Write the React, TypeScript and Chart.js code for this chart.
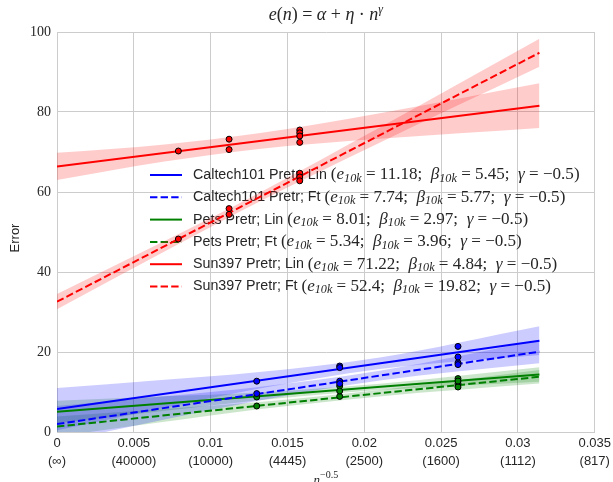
import React, { useEffect, useRef } from 'react';
import { Chart, registerables } from 'chart.js';
Chart.register(...registerables);

// ---------- data ----------
const xTicks = [0, 0.005, 0.01, 0.015, 0.02, 0.025, 0.03, 0.035];
const xTickLabels = ['0', '0.005', '0.01', '0.015', '0.02', '0.025', '0.03', '0.035'];
const xTickSub = ['(∞)', '(40000)', '(10000)', '(4445)', '(2500)', '(1600)', '(1112)', '(817)'];

const seriesNames = [
  'Caltech101 Pretr; Lin',
  'Caltech101 Pretr; Ft',
  'Pets Pretr; Lin',
  'Pets Pretr; Ft',
  'Sun397 Pretr; Lin',
  'Sun397 Pretr; Ft',
];
const e10k = ['11.18', '7.74', '8.01', '5.34', '71.22', '52.4'];
const b10k = ['5.45', '5.77', '2.97', '3.96', '4.84', '19.82'];
const gammaVal = '−0.5';
const seriesColors = ['#0000ff', '#0000ff', '#008000', '#008000', '#ff0000', '#ff0000'];
const bandColors = [
  'rgba(0,0,255,0.2)', 'rgba(0,0,255,0.2)',
  'rgba(0,128,0,0.2)', 'rgba(0,128,0,0.2)',
  'rgba(255,0,0,0.2)', 'rgba(255,0,0,0.2)',
];
const dashed = [false, true, false, true, false, true];

// fitted lines (endpoints)
const fitX = [0, 0.0314];
const caltechLinFit = [5.73, 22.84];
const caltechFtFit = [1.97, 20.09];
const petsLinFit = [5.04, 14.37];
const petsFtFit = [1.38, 13.81];
const sunLinFit = [66.38, 81.58];
const sunFtFit = [32.58, 94.81];

// confidence bands
const bandX = [0, 0.007, 0.013, 0.021, 0.0314];
const caltechLinUpper = [11.0, 13.05, 14.92, 18.63, 26.44];
const caltechLinLower = [0.43, 6.05, 10.72, 15.73, 19.24];
const caltechFtUpper = [6.47, 8.91, 11.17, 15.29, 22.99];
const caltechFtLower = [-2.53, 3.11, 7.77, 12.89, 17.19];
const petsLinUpper = [7.84, 8.92, 9.9, 12.08, 16.17];
const petsLinLower = [2.24, 5.32, 7.9, 10.48, 12.57];
const petsFtUpper = [3.88, 5.75, 7.43, 10.5, 15.51];
const petsFtLower = [-1.12, 2.55, 5.63, 8.9, 12.11];
const sunLinUpper = [69.8, 71.9, 74.6, 79.7, 87.2];
const sunLinLower = [63.0, 67.6, 70.7, 73.3, 76.0];
const sunFtUpper = [34.5, 47.75, 59.45, 76.1, 98.3];
const sunFtLower = [30.7, 45.15, 57.25, 72.3, 91.3];

// observed points
const caltechLinPtsX = [0.013, 0.0184, 0.0184, 0.0261, 0.0261];
const caltechLinPtsY = [12.7, 16.5, 16.1, 21.4, 18.75];
const caltechFtPtsX = [0.013, 0.0184, 0.0184, 0.0261, 0.0261];
const caltechFtPtsY = [9.6, 12.7, 12.1, 17.3, 16.85];
const petsLinPtsX = [0.013, 0.0184, 0.0184, 0.0261, 0.0261];
const petsLinPtsY = [8.75, 11.5, 10.25, 13.35, 12.75];
const petsFtPtsX = [0.013, 0.0184, 0.0261, 0.0261];
const petsFtPtsY = [6.5, 8.9, 12.1, 11.25];
const sunLinPtsX = [0.0079, 0.0112, 0.0112, 0.0158, 0.0158, 0.0158, 0.0158];
const sunLinPtsY = [70.25, 73.2, 70.6, 75.5, 74.8, 74.0, 72.4];
const sunFtPtsX = [0.0079, 0.0112, 0.0112, 0.0158, 0.0158, 0.0158];
const sunFtPtsY = [48.25, 55.85, 54.4, 64.7, 63.75, 62.8];

const fits = [caltechLinFit, caltechFtFit, petsLinFit, petsFtFit, sunLinFit, sunFtFit];
const uppers = [caltechLinUpper, caltechFtUpper, petsLinUpper, petsFtUpper, sunLinUpper, sunFtUpper];
const lowers = [caltechLinLower, caltechFtLower, petsLinLower, petsFtLower, sunLinLower, sunFtLower];
const ptsX = [caltechLinPtsX, caltechFtPtsX, petsLinPtsX, petsFtPtsX, sunLinPtsX, sunFtPtsX];
const ptsY = [caltechLinPtsY, caltechFtPtsY, petsLinPtsY, petsFtPtsY, sunLinPtsY, sunFtPtsY];

// ---------- drawing helpers ----------
const TXT = '#262626';
const SANS = '"Liberation Sans", Arial, sans-serif';
const SERIF = '"Liberation Serif", "DejaVu Serif", serif';
type Seg = { t: string; f: string; dy?: number };

function segWidth(ctx: CanvasRenderingContext2D, segs: Seg[]) {
  let w = 0;
  for (const s of segs) { ctx.font = s.f; w += ctx.measureText(s.t).width; }
  return w;
}
function drawSegs(ctx: CanvasRenderingContext2D, segs: Seg[], x: number, y: number) {
  for (const s of segs) {
    ctx.font = s.f;
    ctx.fillText(s.t, x, y + (s.dy || 0));
    x += ctx.measureText(s.t).width;
  }
}

function nameSegs(i: number, k: number): Seg[] {
  return [{ t: seriesNames[i] + ' ', f: `${13 * k}px ${SANS}` }];
}
function mathSegs(i: number, k: number): Seg[] {
  const rm = `${14 * k}px ${SERIF}`;
  const it = `italic ${14 * k}px ${SERIF}`;
  const sub = `italic ${10 * k}px ${SERIF}`;
  const sd = 3 * k;
  return [
    { t: '(', f: rm },
    { t: 'e', f: it },
    { t: '10k', f: sub, dy: sd },
    { t: ' = ' + e10k[i] + ';  ', f: rm },
    { t: 'β', f: it },
    { t: '10k', f: sub, dy: sd },
    { t: ' = ' + b10k[i] + ';  ', f: rm },
    { t: 'γ', f: it },
    { t: ' = ' + gammaVal + ')', f: rm },
  ];
}

const decoPlugin = {
  id: 'deco',
  beforeDatasetsDraw(chart: any) {
    const ctx: CanvasRenderingContext2D = chart.ctx;
    ctx.save();
    const x0 = 193;
    const kn = Math.min(1.18, 138 / segWidth(ctx, nameSegs(0, 1)));
    const km = 249 / segWidth(ctx, mathSegs(0, 1));
    const rowY = [175, 197.3, 219.6, 241.9, 264.2, 286.5];
    ctx.textBaseline = 'middle';
    for (let i = 0; i < seriesNames.length; i++) {
      const y = rowY[i];
      ctx.strokeStyle = seriesColors[i];
      ctx.lineWidth = 2;
      ctx.setLineDash(dashed[i] ? [7.4, 3.2] : []);
      ctx.beginPath();
      ctx.moveTo(150, y);
      ctx.lineTo(182, y);
      ctx.stroke();
      ctx.setLineDash([]);
      ctx.fillStyle = TXT;
      const ns = nameSegs(i, kn);
      drawSegs(ctx, ns, x0, y);
      drawSegs(ctx, mathSegs(i, km), x0 + segWidth(ctx, ns), y);
    }
    ctx.restore();
  },
  afterDraw(chart: any) {
    const ctx: CanvasRenderingContext2D = chart.ctx;
    const area = chart.chartArea;
    const cx = (area.left + area.right) / 2;
    ctx.save();
    ctx.fillStyle = TXT;
    ctx.textBaseline = 'alphabetic';
    // title
    const it = `italic 18px ${SERIF}`;
    const rm = `18px ${SERIF}`;
    const title: Seg[] = [
      { t: 'e', f: it }, { t: '(', f: rm }, { t: 'n', f: it }, { t: ')', f: rm },
      { t: ' = ', f: rm }, { t: 'α', f: it }, { t: ' + ', f: rm }, { t: 'η', f: it },
      { t: ' · ', f: rm }, { t: 'n', f: it }, { t: 'γ', f: `italic 12px ${SERIF}`, dy: -7 },
    ];
    const tw = segWidth(ctx, title);
    drawSegs(ctx, title, cx - tw / 2, 20);
    // x label
    const xl: Seg[] = [
      { t: 'n', f: `italic 13px ${SERIF}` },
      { t: '−0.5', f: `10px ${SERIF}`, dy: -6 },
    ];
    const xw = segWidth(ctx, xl);
    drawSegs(ctx, xl, cx - xw / 2, 484);
    // y label
    ctx.translate(15, (area.top + area.bottom) / 2 + 6);
    ctx.rotate(-Math.PI / 2);
    ctx.font = `13px ${SANS}`;
    ctx.textAlign = 'center';
    ctx.textBaseline = 'middle';
    ctx.fillText('Error', 0, 0);
    ctx.restore();
  },
};

export default function App() {
  const ref = useRef<HTMLCanvasElement | null>(null);
  useEffect(() => {
    document.body.style.margin = '0';
    if (!ref.current) return;
    const datasets: any[] = [];
    for (let i = 0; i < 6; i++) {
      datasets.push({
        data: bandX.map((x, j) => ({ x, y: uppers[i][j] })),
        fill: '+1',
        backgroundColor: bandColors[i],
        borderWidth: 0,
        pointRadius: 0,
        cubicInterpolationMode: 'monotone',
        order: 3,
      });
      datasets.push({
        data: bandX.map((x, j) => ({ x, y: lowers[i][j] })),
        fill: false,
        borderWidth: 0,
        pointRadius: 0,
        cubicInterpolationMode: 'monotone',
        order: 3,
      });
    }
    for (let i = 0; i < 6; i++) {
      datasets.push({
        data: fitX.map((x, j) => ({ x, y: fits[i][j] })),
        borderColor: seriesColors[i],
        borderWidth: 2,
        borderDash: dashed[i] ? [7.4, 3.2] : [],
        pointRadius: 0,
        fill: false,
        order: 2,
      });
    }
    for (let i = 0; i < 6; i++) {
      datasets.push({
        data: ptsX[i].map((x, j) => ({ x, y: ptsY[i][j] })),
        showLine: false,
        pointRadius: 3,
        pointBackgroundColor: seriesColors[i],
        pointBorderColor: '#000000',
        pointBorderWidth: 1,
        fill: false,
        order: 1,
      });
    }
    const chart = new Chart(ref.current, {
      type: 'line',
      data: { datasets },
      options: {
        animation: false,
        responsive: false,
        layout: { padding: { top: 32, right: 18, left: 0, bottom: 0 } },
        plugins: { legend: { display: false }, tooltip: { enabled: false }, title: { display: false } },
        scales: {
          x: {
            type: 'linear',
            min: 0,
            max: 0.035,
            afterBuildTicks: (s: any) => { s.ticks = xTicks.map((v) => ({ value: v })); },
            afterFit: (s: any) => { s.height = 50; },
            grid: { color: '#cccccc', lineWidth: 1, drawTicks: false },
            border: { color: '#cccccc', width: 1 },
            ticks: {
              padding: 2,
              color: TXT,
              maxRotation: 0,
              autoSkip: false,
              font: { family: SANS, size: 13, lineHeight: 1.4 },
              callback: (v: any) => {
                const i = xTicks.findIndex((t) => Math.abs(t - v) < 1e-9);
                return i >= 0 ? [xTickLabels[i], xTickSub[i]] : '';
              },
            },
          },
          y: {
            min: 0,
            max: 100,
            afterFit: (s: any) => { s.width = 57; },
            grid: { color: '#cccccc', lineWidth: 1, drawTicks: false },
            border: { color: '#cccccc', width: 1 },
            ticks: {
              stepSize: 20,
              padding: 6,
              color: TXT,
              font: { family: SERIF, size: 14 },
            },
          },
        },
      },
      plugins: [decoPlugin],
    } as any);
    return () => chart.destroy();
  }, []);
  return (
    <div style={{ width: 613, height: 482 }}>
      <canvas ref={ref} width={613} height={482} style={{ display: 'block' }} />
    </div>
  );
}
